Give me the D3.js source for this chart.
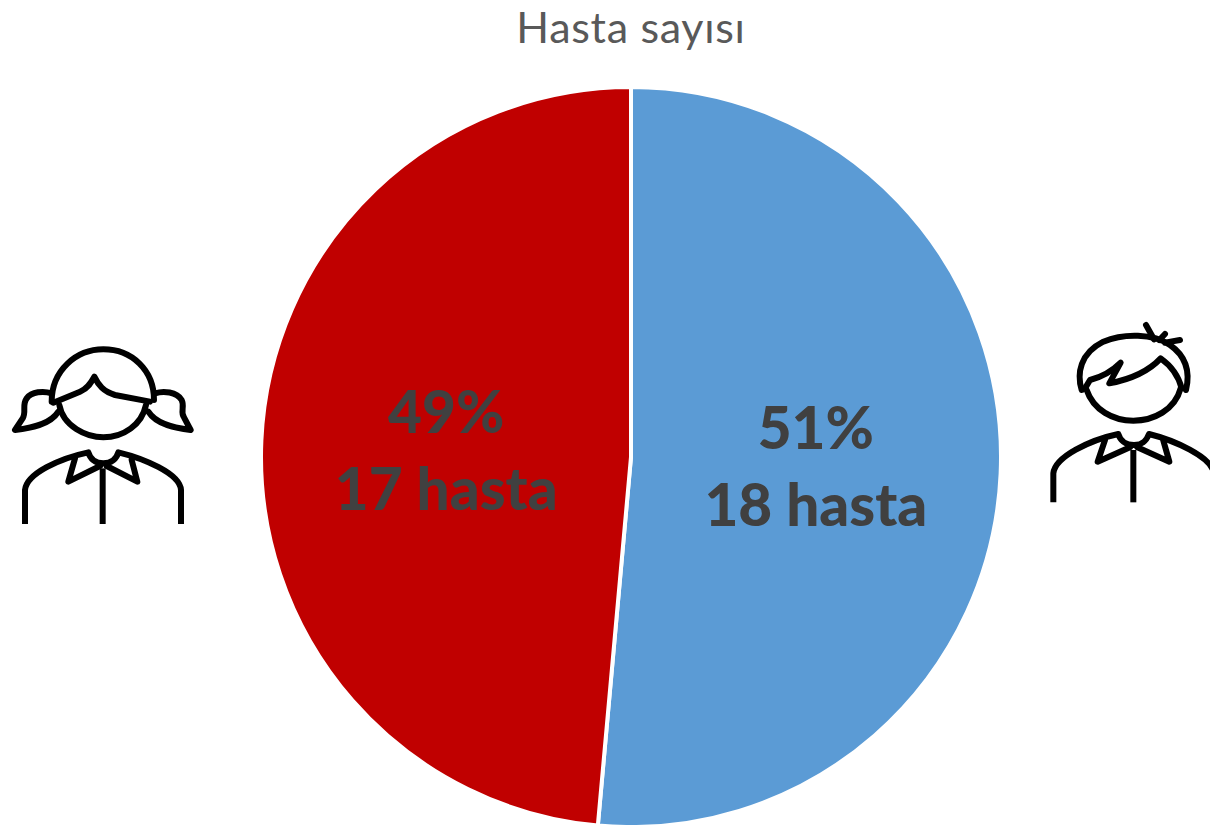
<!DOCTYPE html>
<html>
<head>
<meta charset="utf-8">
<script src="https://cdn.jsdelivr.net/npm/d3@7"></script>
<style>
  html, body { margin: 0; padding: 0; background: #fff; overflow: hidden; }
  text { font-family: Lato, "Open Sans", sans-serif; }
</style>
</head>
<body>
<svg id="chart" width="1210" height="825"></svg>
<script>
const categories = ["Erkek", "Kız"];
const patients = [18, 17];
const percentLabels = ["51%", "49%"];
const countLabels = ["18 hasta", "17 hasta"];
const sliceColors = ["#5B9BD5", "#C00000"];
const chartTitle = "Hasta sayısı";

const svg = d3.select("#chart");
const cx = 631, cy = 457, radius = 370;

svg.append("text")
  .attr("x", cx).attr("y", 42.5)
  .attr("text-anchor", "middle")
  .attr("font-size", 43)
  .attr("letter-spacing", 0.7)
  .attr("fill", "#595959")
  .text(chartTitle);

const pie = d3.pie().value(d => d).sort(null);
const arc = d3.arc().innerRadius(0).outerRadius(radius);
const slices = pie(patients);

const g = svg.append("g").attr("transform", `translate(${cx}, ${cy})`);

g.selectAll("path")
  .data(slices)
  .enter().append("path")
    .attr("d", arc)
    .attr("fill", (d, i) => sliceColors[i])
    .attr("stroke", "#fff")
    .attr("stroke-width", 4);

// labels sit half way out along each slice
const labelArc = d3.arc().innerRadius(radius / 2).outerRadius(radius / 2);
const labels = g.selectAll("g.label")
  .data(slices)
  .enter().append("g")
    .attr("class", "label")
    .attr("transform", d => {
      const [x, y] = labelArc.centroid(d);
      return `translate(${x}, ${y})`;
    });

labels.append("text")
  .attr("text-anchor", "middle")
  .attr("y", -16)
  .attr("font-size", 58.5)
  .attr("font-weight", 900)
  .attr("fill", "#404040")
  .text((d, i) => percentLabels[i]);

labels.append("text")
  .attr("text-anchor", "middle")
  .attr("y", 61)
  .attr("font-size", 58.5)
  .attr("font-weight", 900)
  .attr("fill", "#404040")
  .text((d, i) => countLabels[i]);

// person icons, traced at 3x so the paths are in crop units
function drawIcon(dx, dy, paths) {
  const icon = svg.append("g")
    .attr("transform", `translate(${dx}, ${dy}) scale(${1 / 3})`)
    .attr("fill", "none")
    .attr("stroke", "#000")
    .attr("stroke-width", 18)
    .attr("stroke-linejoin", "round")
    .attr("stroke-linecap", "round");
  icon.selectAll("path")
    .data(paths)
    .enter().append("path")
      .attr("d", d => d);
  return icon;
}

const girlPaths = [
  "M155,215 C155,120 230,58 310,58 C395,58 462,120 462,210",
  "M160,218 L240,185 C265,175 275,155 283,140 C295,165 310,185 345,195 L450,215",
  "M178,225 C190,290 260,322 310,322 C370,322 425,285 438,225",
  "M155,190 C130,182 95,185 80,205 C65,225 80,245 68,265 L45,300 C90,295 150,285 175,245",
  "M465,190 C490,182 530,185 545,210 C555,230 540,245 552,262 L572,300 C530,295 470,285 445,245"
];
const boyPaths = [
  "M155,240 C140,190 150,130 220,95 C280,70 370,70 420,105 C470,140 480,190 468,240",
  "M165,235 L180,210 C220,200 245,185 272,158 L238,220 C290,210 350,190 392,145 C420,165 445,195 455,235",
  "M170,240 C190,300 250,332 310,332 C370,332 435,300 452,235",
  "M348,45 L372,88",
  "M388,90 L405,72",
  "M405,98 L450,90"
];
const girlBody = [
  "M75,582 L75,480 C80,430 180,385 265,367 C270,385 285,400 310,400 C335,400 350,385 355,367 C430,385 540,430 543,480 L543,582",
  "M225,385 L205,455 L300,408",
  "M395,390 L412,455 L320,408",
  "M308,415 L308,582"
];
const boyBody = [
  "M70,577 L70,490 C75,440 180,390 265,372 C270,390 285,405 312,405 C340,405 350,390 357,372 C430,390 545,440 552,490 L552,577",
  "M225,390 L203,455 L300,412",
  "M400,392 L418,455 L322,412",
  "M310,420 L310,577"
];

const girl = drawIcon(0, 330, girlPaths.concat(girlBody));
const boy = drawIcon(1030, 310, boyPaths.concat(boyBody));
// sleeves and shirt front end square
[girl, boy].forEach(icon => icon.selectAll("path")
  .filter(d => d.includes("582") || d.includes("577"))
  .attr("stroke-linecap", "butt"));
</script>
</body>
</html>
